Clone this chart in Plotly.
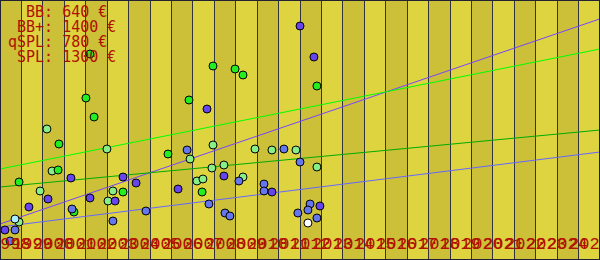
import plotly.graph_objects as go

years = list(range(1998, 2026))
year_labels = [str(y) for y in years]

# BB+ (purple)
bbp_x = [2012.0, 2012.65, 2007.66, 2001.31, 2003.74, 2004.35, 2006.31, 2000.24, 1999.35,
         2003.37, 2002.2, 1998.23, 2008.45, 2010.69, 2012.93]
bbp_y = [1404, 1218, 906, 492, 498, 462, 426, 366, 318, 354, 372, 180, 504, 408, 324]
# BB (blue)
bb_x = [2006.73, 2011.25, 2012.0, 2009.15, 2010.32, 2010.32, 2007.75, 2008.5, 2008.73,
        2011.9, 2012.47, 2012.37, 2012.79, 2004.81, 2003.27, 2001.36, 1998.7, 1998.47]
bb_y = [660, 666, 588, 474, 456, 414, 336, 282, 264, 282, 336, 300, 252, 294, 234, 306, 180, 114]
# SPL (green)
spl_x = [2002.2, 2007.94, 2008.97, 2009.34, 2012.79, 2002.01, 2006.82, 2002.39, 2000.75,
         2005.84, 2000.71, 1998.89, 2001.45, 2003.74, 2007.43]
spl_y = [1236, 1164, 1146, 1110, 1044, 972, 960, 858, 696, 636, 540, 468, 288, 408, 408]
# qSPL (light green)
qspl_x = [2000.19, 2002.99, 2007.94, 2006.87, 2009.9, 2010.69, 2011.81, 2012.79, 2000.43,
          1999.87, 2003.27, 2003.04, 2007.19, 2007.47, 2007.89, 2008.45, 2009.34, 1998.89]
qspl_y = [786, 666, 690, 606, 666, 660, 660, 558, 534, 414, 414, 354, 474, 486, 552, 570, 498, 228]
# other
cyan_x = [1998.7]
cyan_y = [246]
white_x = [2012.37]
white_y = [222]

trend_x = [1998, 2026]
trend_bbp = [216, 1447]
trend_spl = [546, 1266]
trend_qspl = [438, 780]
trend_bb = [198, 648]

legend_lines = ["\u00a0\u00a0BB: 640 €", "\u00a0BB+: 1400 €", "qSPL: 780 €", "\u00a0SPL: 1300 €"]

fig = go.Figure()

def line(xs, ys, color):
    fig.add_trace(go.Scatter(x=xs, y=ys, mode="lines", line=dict(color=color, width=1),
                             hoverinfo="skip", showlegend=False))

def pts(xs, ys, color):
    fig.add_trace(go.Scatter(x=xs, y=ys, mode="markers",
                             marker=dict(size=8, color=color, line=dict(color="black", width=1)),
                             showlegend=False))

line(trend_x, trend_bbp, "#7744ff")
line(trend_x, trend_spl, "#00ff00")
line(trend_x, trend_qspl, "#00aa00")
line(trend_x, trend_bb, "#6666ff")

pts(qspl_x, qspl_y, "#88ee88")
pts(spl_x, spl_y, "#22ee22")
pts(bb_x, bb_y, "#6677ee")
pts(bbp_x, bbp_y, "#6644ee")
pts(cyan_x, cyan_y, "#aaeeff")
pts(white_x, white_y, "#ffffff")

shapes = []
for i, y in enumerate(years):
    shapes.append(dict(type="rect", xref="x", yref="paper", x0=y, x1=y + 1, y0=0, y1=1,
                       fillcolor="#cbc037" if i % 2 == 0 else "#ddd43f",
                       line=dict(width=0), layer="below"))
shapes.append(dict(type="rect", xref="paper", yref="paper", x0=0, x1=1, y0=0, y1=1,
                   line=dict(color="#222233", width=2), layer="above"))

annotations = []
for i, t in enumerate(legend_lines):
    annotations.append(dict(text=t, xref="paper", yref="paper", x=7 / 600,
                            y=1 - (12 + 15 * i) / 260, xanchor="left", yanchor="middle",
                            showarrow=False, borderpad=0,
                            font=dict(family="DejaVu Sans Mono", size=15, color="#b01000")))
for y, t in zip(years, year_labels):
    annotations.append(dict(text=t, xref="x", yref="paper", x=y + 0.5,
                            y=(260 - 244) / 260, xanchor="center", yanchor="middle",
                            showarrow=False, borderpad=0,
                            font=dict(family="Liberation Mono", size=17, color="#b01000")))

fig.update_layout(
    width=600, height=260, margin=dict(l=0, r=0, t=0, b=0),
    paper_bgcolor="#ddd43f", plot_bgcolor="#ddd43f",
    shapes=shapes, annotations=annotations,
    xaxis=dict(range=[1998, 2026], showticklabels=False, ticks="", showgrid=False,
               zeroline=False,
               minor=dict(tickmode="array", tickvals=years + [2026], showgrid=True,
                          gridcolor="#333340", gridwidth=1, ticks="")),
    yaxis=dict(range=[0, 1560], showticklabels=False, showgrid=False, zeroline=False),
)

fig.write_html("out.html")
